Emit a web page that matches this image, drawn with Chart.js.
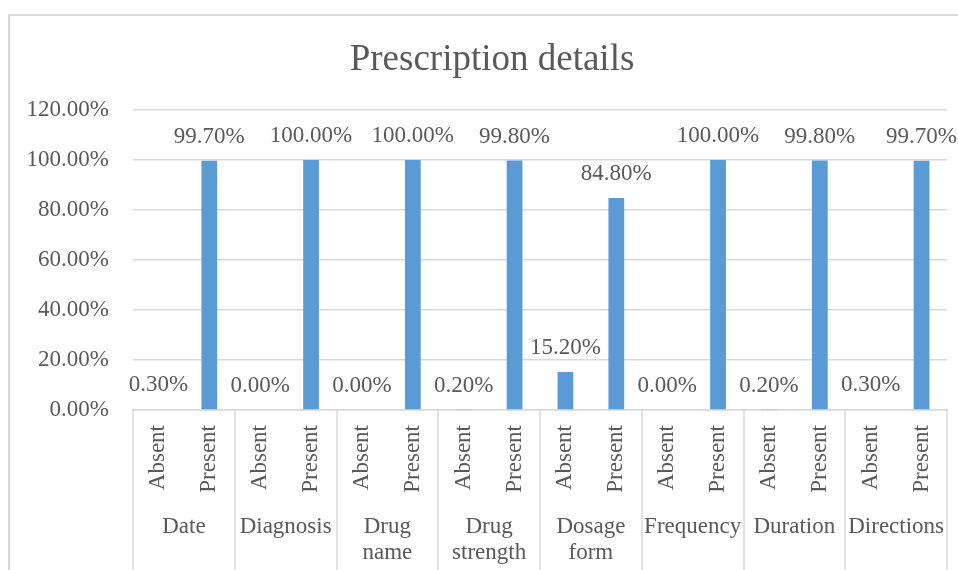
<!DOCTYPE html>
<html>
<head>
<meta charset="utf-8">
<title>Prescription details</title>
<script src="https://cdn.jsdelivr.net/npm/chart.js@4"></script>
<style>
  html, body { margin: 0; padding: 0; background: #fff; overflow: hidden; }
  #frame {
    position: absolute; left: 8px; top: 14px;
    width: 980px; height: 600px;
    border-left: 2px solid #d9d9d9; border-top: 2px solid #d9d9d9;
  }
  #wrap { position: absolute; left: 9px; top: 15px; width: 966px; height: 555px; }
</style>
</head>
<body>
<div id="frame"></div>
<div id="wrap"><canvas id="chart"></canvas></div>
<script>
const groups = ["Date", "Diagnosis", ["Drug", "name"], ["Drug", "strength"], ["Dosage", "form"], "Frequency", "Duration", "Directions"];
const levels = ["Absent", "Present"];
const absent = [0.3, 0.0, 0.0, 0.2, 15.2, 0.0, 0.2, 0.3];
const present = [99.7, 100.0, 100.0, 99.8, 84.8, 100.0, 99.8, 99.7];
const yTicks = [0, 20, 40, 60, 80, 100, 120];

const FONT = "'Liberation Serif', 'Times New Roman', serif";
const TEXT = "#595959";
const GRID = "#d9d9d9";

// flatten into one Absent/Present pair per group
const labels = [];
const values = [];
groups.forEach((g, i) => {
  labels.push(levels[0], levels[1]);
  values.push(absent[i], present[i]);
});

// title, value labels and the grouped category row under the ticks
const extras = {
  id: "extras",
  afterDraw(chart) {
    const ctx = chart.ctx;
    const x = chart.scales.x;
    const area = chart.chartArea;
    ctx.save();

    ctx.fillStyle = TEXT;
    ctx.font = "37px " + FONT;
    ctx.textAlign = "center";
    ctx.textBaseline = "alphabetic";
    ctx.fillText("Prescription details", 483, 55);

    ctx.font = "23px " + FONT;
    ctx.textBaseline = "middle";
    chart.getDatasetMeta(0).data.forEach((bar, i) => {
      ctx.fillText(values[i].toFixed(2) + "%", bar.x, bar.y - 24);
    });

    ctx.strokeStyle = GRID;
    ctx.lineWidth = 1.5;
    for (let k = 0; k <= groups.length; k++) {
      const px = Math.round(x.getPixelForValue(2 * k - 0.5));
      ctx.beginPath();
      ctx.moveTo(px, area.bottom);
      ctx.lineTo(px, chart.height);
      ctx.stroke();
    }

    ctx.textBaseline = "alphabetic";
    groups.forEach((g, k) => {
      const cx = x.getPixelForValue(2 * k + 0.5);
      const lines = Array.isArray(g) ? g : [g];
      lines.forEach((line, j) => ctx.fillText(line, cx, 518 + j * 26));
    });
    ctx.restore();
  }
};

new Chart(document.getElementById("chart"), {
  type: "bar",
  data: {
    labels: labels,
    datasets: [{
      data: values,
      backgroundColor: "#5b9bd5",
      barPercentage: 0.31,
      categoryPercentage: 1
    }]
  },
  options: {
    responsive: true,
    maintainAspectRatio: false,
    animation: false,
    layout: { padding: { top: 95, right: 28, left: 0, bottom: 0 } },
    plugins: { legend: { display: false }, tooltip: { enabled: false }, title: { display: false } },
    scales: {
      x: {
        grid: { display: false, drawTicks: false },
        border: { display: true, color: GRID, width: 1.5 },
        ticks: {
          color: TEXT, font: { family: FONT, size: 23 },
          minRotation: 90, maxRotation: 90, padding: 15, autoSkip: false
        },
        afterFit(scale) { scale.height = 160; }
      },
      y: {
        min: 0, max: 120,
        afterBuildTicks(scale) { scale.ticks = yTicks.map(v => ({ value: v })); },
        grid: { color: GRID, lineWidth: 1.5, drawTicks: false },
        border: { display: false },
        ticks: {
          color: TEXT, font: { family: FONT, size: 23 }, padding: 24,
          callback: v => v.toFixed(2) + "%"
        },
        afterFit(scale) { scale.width = 124; }
      }
    }
  },
  plugins: [extras]
});
</script>
</body>
</html>
